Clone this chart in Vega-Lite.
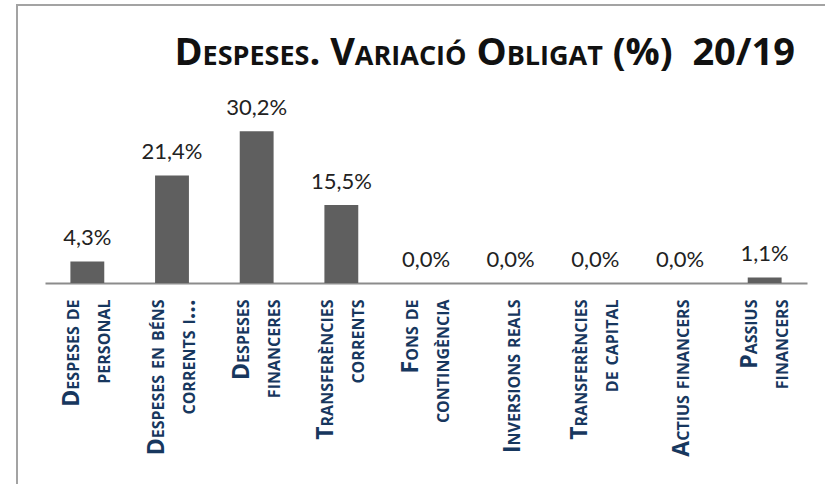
{
  "$schema": "https://vega.github.io/schema/vega-lite/v6.json",
  "autosize": {"type": "none"},
  "padding": {"left": 17, "top": 5, "right": 0, "bottom": 0},
  "width": 812,
  "height": 485,
  "background": "white",
  "title": {
    "text": "Despeses. Variació Obligat (%)\u00a0 20/19",
    "anchor": "end",
    "orient": "top",
    "offset": 0,
    "baseline": "alphabetic",
    "dy": 98,
    "dx": -34,
    "font": "Open Sans",
    "fontSize": 38,
    "fontWeight": "bold",
    "color": "#111111"
  },
  "data": {
    "values": [
      {"partida": "Despeses de|personal", "variacio": 0.043},
      {"partida": "Despeses en béns|corrents i...", "variacio": 0.214},
      {"partida": "Despeses|financeres", "variacio": 0.302},
      {"partida": "Transferències|corrents", "variacio": 0.155},
      {"partida": "Fons de|contingència", "variacio": 0.0},
      {"partida": "Inversions reals", "variacio": 0.0},
      {"partida": "Transferències|de capital", "variacio": 0.0},
      {"partida": "Actius financers", "variacio": 0.0},
      {"partida": "Passius|financers", "variacio": 0.011}
    ]
  },
  "encoding": {
    "x": {
      "field": "partida",
      "type": "nominal",
      "sort": null,
      "scale": {"range": [28, 790], "paddingInner": 0.6, "paddingOuter": 0.3},
      "axis": {
        "title": null,
        "orient": "bottom",
        "offset": -207,
        "labelAngle": -90,
        "labelAlign": "right",
        "labelBaseline": "middle",
        "labelExpr": "split(datum.label, '|')",
        "labelLineHeight": 31,
        "labelOffset": {"condition": {"test": "indexof(datum.value, '|') >= 0", "value": -15}, "value": 2},
        "labelPadding": 16,
        "labelLimit": 400,
        "labelFont": "Open Sans",
        "labelFontSize": 23,
        "labelFontWeight": "bold",
        "labelColor": "#17375E",
        "ticks": false,
        "domainColor": "#8c8c8c",
        "domainWidth": 2,
        "grid": false
      }
    },
    "y": {
      "field": "variacio",
      "type": "quantitative",
      "scale": {"domain": [0, 0.35], "range": [278, 102], "nice": false},
      "axis": null
    }
  },
  "layer": [
    {"mark": {"type": "bar", "color": "#5f5f5f"}},
    {
      "mark": {
        "type": "text",
        "baseline": "alphabetic",
        "dy": -16,
        "font": "Lato",
        "fontSize": 22,
        "color": "#222222"
      },
      "encoding": {
        "text": {"field": "variacio", "type": "quantitative", "format": ".1%"}
      }
    }
  ],
  "config": {
    "locale": {
      "number": {"decimal": ",", "thousands": ".", "grouping": [3], "currency": ["", " €"]}
    },
    "view": {"stroke": "#a3a3a3", "strokeWidth": 2},
    "style": {
      "guide-label": {"fontVariant": "small-caps"},
      "group-title": {"fontVariant": "small-caps"}
    }
  }
}
